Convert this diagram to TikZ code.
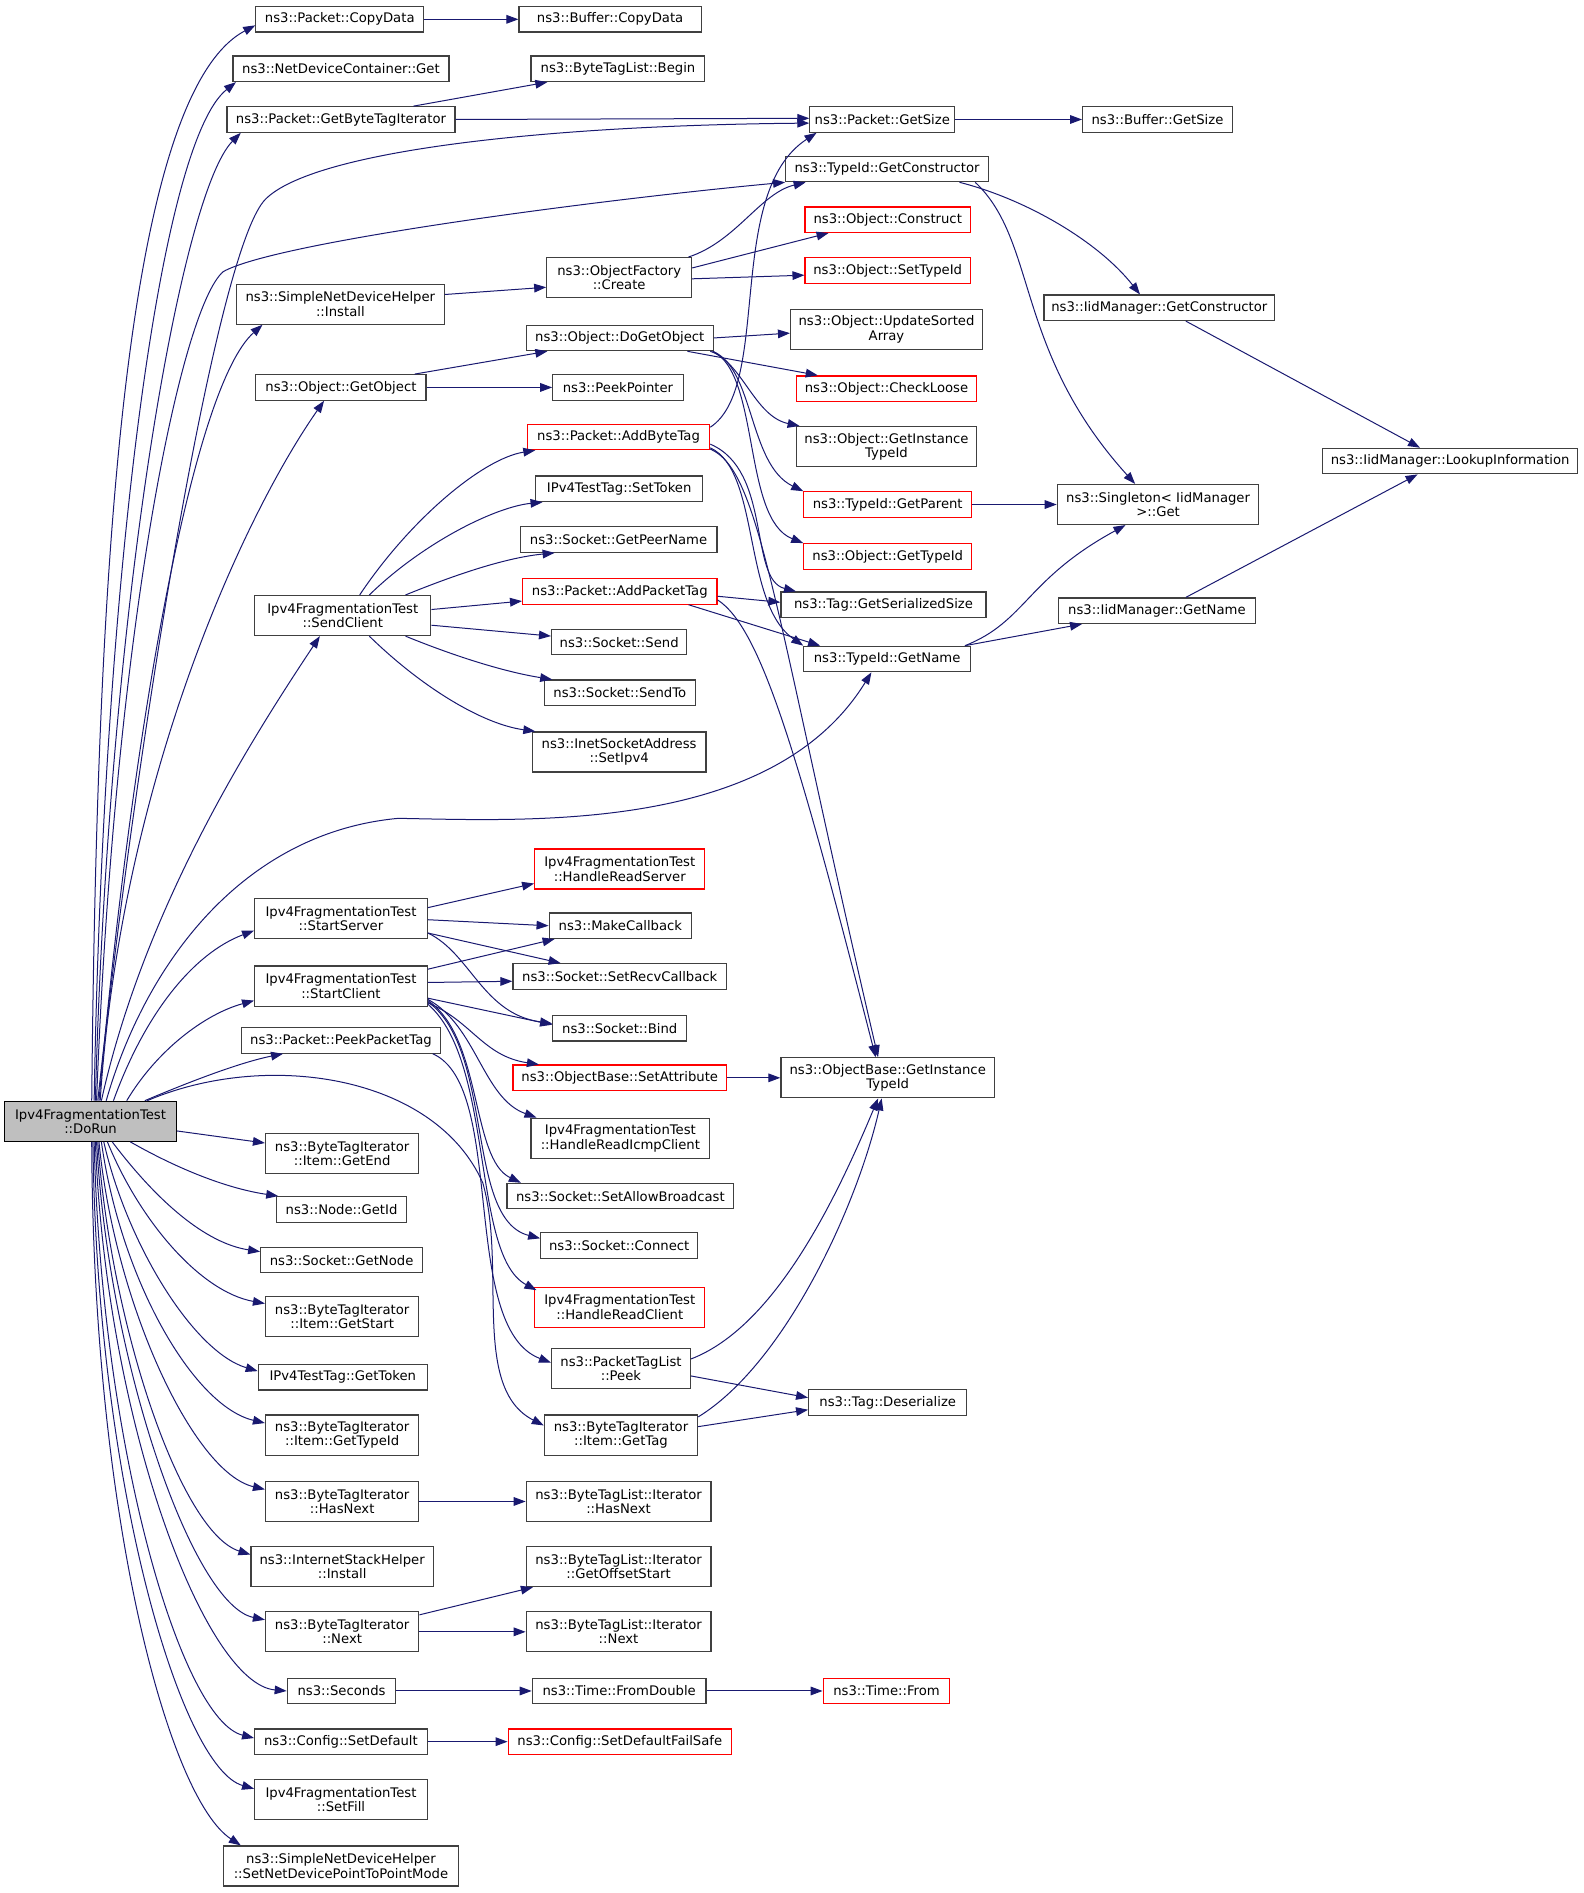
\documentclass[tikz,border=0pt]{standalone}
\usepackage{fontspec}
\newfontfamily\dejavu{DejaVu Sans}
\usetikzlibrary{arrows.meta,calc}
\definecolor{edgeblue}{HTML}{191970}
\definecolor{boxgrey}{HTML}{404040}
\definecolor{rootgrey}{HTML}{BFBFBF}
\definecolor{boxred}{HTML}{FF0000}

\begin{document}
\begin{tikzpicture}[x=0.905pt, y=-0.905pt,
  fn/.style={draw=boxgrey, fill=white, line width=0.9pt, font=\dejavu\fontsize{9.9}{10.8}\selectfont,
    align=center, inner xsep=2pt, inner ysep=1pt, minimum height=19.1pt},
  two/.style={minimum height=30pt},
  bw/.style={minimum width=#1*0.905pt},
  redfn/.style={fn, draw=boxred},
  rootfn/.style={fn, fill=rootgrey, draw=black},
  call/.style={draw=edgeblue, line width=0.75pt, -{Triangle[length=9pt,width=6.5pt]}}]
  \useasboundingbox (0,0) rectangle (1312.3,1568.4);

  \node[rootfn,two,bw=142] (dorun) at (75,929) {Ipv4FragmentationTest\\::DoRun};
  \node[fn,bw=139] (pcopy) at (281.5,16) {ns3::Packet::CopyData};
  \node[fn,bw=151] (bcopy) at (505.5,16) {ns3::Buffer::CopyData};
  \node[fn,bw=179] (ndcget) at (282.5,57) {ns3::NetDeviceContainer::Get};
  \node[fn,bw=144] (btlbegin) at (512,57) {ns3::ByteTagList::Begin};
  \node[fn,bw=189] (getbti) at (282.5,99) {ns3::Packet::GetByteTagIterator};
  \node[fn,bw=120] (psize) at (731,99) {ns3::Packet::GetSize};
  \node[fn,bw=124] (bsize) at (959,99) {ns3::Buffer::GetSize};
  \node[fn,bw=168] (tidctor) at (735,140) {ns3::TypeId::GetConstructor};
  \node[redfn,bw=137] (oconstruct) at (735.5,182) {ns3::Object::Construct};
  \node[fn,two,bw=120] (ofcreate) at (513,230) {ns3::ObjectFactory\\::Create};
  \node[redfn,bw=137] (osettid) at (735.5,224) {ns3::Object::SetTypeId};
  \node[fn,two,bw=172] (sndhinstall) at (282,252) {ns3::SimpleNetDeviceHelper\\::Install};
  \node[fn,bw=191] (iidctor) at (960.5,255) {ns3::IidManager::GetConstructor};
  \node[fn,bw=155] (dogetobj) at (513.5,280) {ns3::Object::DoGetObject};
  \node[fn,two,bw=159] (usorted) at (734.5,273) {ns3::Object::UpdateSorted\\Array};
  \node[fn,bw=141] (getobj) at (282.5,321) {ns3::Object::GetObject};
  \node[fn,bw=108] (peekptr) at (512,321) {ns3::PeekPointer};
  \node[redfn,bw=149] (checkloose) at (734.5,322) {ns3::Object::CheckLoose};
  \node[redfn,bw=151] (addbtag) at (512.5,362) {ns3::Packet::AddByteTag};
  \node[fn,two,bw=149] (oinsttid) at (734.5,370) {ns3::Object::GetInstance\\TypeId};
  \node[fn,bw=211] (lookup) at (1201.5,382) {ns3::IidManager::LookupInformation};
  \node[fn,bw=138] (settoken) at (513,405) {IPv4TestTag::SetToken};
  \node[redfn,bw=139] (getparent) at (735.5,418) {ns3::TypeId::GetParent};
  \node[fn,two,bw=167] (singleton) at (959.5,418) {ns3::Singleton< IidManager\\>::Get};
  \node[fn,bw=163] (peername) at (512.5,447) {ns3::Socket::GetPeerName};
  \node[redfn,bw=139] (ogettid) at (735.5,461) {ns3::Object::GetTypeId};
  \node[redfn,bw=161] (addptag) at (513.5,490) {ns3::Packet::AddPacketTag};
  \node[fn,two,bw=146] (sendclient) at (284,510) {Ipv4FragmentationTest\\::SendClient};
  \node[fn,bw=170] (sersize) at (732,501) {ns3::Tag::GetSerializedSize};
  \node[fn,bw=163] (iidname) at (958.5,506) {ns3::IidManager::GetName};
  \node[fn,bw=112] (ssend) at (513,532) {ns3::Socket::Send};
  \node[fn,bw=138] (tidname) at (735,546) {ns3::TypeId::GetName};
  \node[fn,bw=125] (ssendto) at (513.5,574) {ns3::Socket::SendTo};
  \node[fn,two,bw=144] (setipv4) at (513,623) {ns3::InetSocketAddress\\::SetIpv4};
  \node[redfn,two,bw=141] (hreadserver) at (513.5,720) {Ipv4FragmentationTest\\::HandleReadServer};
  \node[fn,two,bw=143] (startserver) at (282.5,761) {Ipv4FragmentationTest\\::StartServer};
  \node[fn,bw=118] (mkcb) at (514,767) {ns3::MakeCallback};
  \node[fn,bw=177] (recvcb) at (513.5,809) {ns3::Socket::SetRecvCallback};
  \node[fn,two,bw=143] (startclient) at (282.5,817) {Ipv4FragmentationTest\\::StartClient};
  \node[fn,bw=111] (sbind) at (513.5,852) {ns3::Socket::Bind};
  \node[fn,bw=165] (peekptag) at (282.5,862) {ns3::Packet::PeekPacketTag};
  \node[redfn,bw=177] (setattr) at (513.5,893) {ns3::ObjectBase::SetAttribute};
  \node[fn,two,bw=177] (obinsttid) at (735.5,893) {ns3::ObjectBase::GetInstance\\TypeId};
  \node[fn,two,bw=148] (hreadicmp) at (514,943) {Ipv4FragmentationTest\\::HandleReadIcmpClient};
  \node[fn,two,bw=127] (itemend) at (283.5,956) {ns3::ByteTagIterator\\::Item::GetEnd};
  \node[fn,bw=188] (allowbc) at (514,991) {ns3::Socket::SetAllowBroadcast};
  \node[fn,bw=108] (nodeid) at (283,1002) {ns3::Node::GetId};
  \node[fn,bw=130] (sconnect) at (513,1032) {ns3::Socket::Connect};
  \node[fn,bw=134] (sgetnode) at (283,1044) {ns3::Socket::GetNode};
  \node[redfn,two,bw=141] (hreadclient) at (513.5,1083) {Ipv4FragmentationTest\\::HandleReadClient};
  \node[fn,two,bw=127] (itemstart) at (283.5,1091) {ns3::ByteTagIterator\\::Item::GetStart};
  \node[fn,two,bw=115] (ptlpeek) at (514.5,1134) {ns3::PacketTagList\\::Peek};
  \node[fn,bw=140] (gettoken) at (284,1141) {IPv4TestTag::GetToken};
  \node[fn,bw=131] (deser) at (735.5,1162) {ns3::Tag::Deserialize};
  \node[fn,two,bw=127] (itemtag) at (514.5,1189) {ns3::ByteTagIterator\\::Item::GetTag};
  \node[fn,two,bw=127] (itemtid) at (283.5,1189) {ns3::ByteTagIterator\\::Item::GetTypeId};
  \node[fn,two,bw=127] (btihasnext) at (283.5,1244) {ns3::ByteTagIterator\\::HasNext};
  \node[fn,two,bw=153] (btlhasnext) at (512.5,1244) {ns3::ByteTagList::Iterator\\::HasNext};
  \node[fn,two,bw=151] (ishinstall) at (283.5,1298) {ns3::InternetStackHelper\\::Install};
  \node[fn,two,bw=153] (offstart) at (512.5,1298) {ns3::ByteTagList::Iterator\\::GetOffsetStart};
  \node[fn,two,bw=127] (btinext) at (283.5,1352) {ns3::ByteTagIterator\\::Next};
  \node[fn,two,bw=153] (btlnext) at (512.5,1352) {ns3::ByteTagList::Iterator\\::Next};
  \node[fn,bw=90] (seconds) at (283,1401) {ns3::Seconds};
  \node[fn,bw=144] (fromdbl) at (513,1401) {ns3::Time::FromDouble};
  \node[redfn,bw=105] (tfrom) at (734.5,1401) {ns3::Time::From};
  \node[fn,bw=143] (cfgdef) at (282.5,1443) {ns3::Config::SetDefault};
  \node[redfn,bw=185] (cfgfail) at (513.5,1443) {ns3::Config::SetDefaultFailSafe};
  \node[fn,two,bw=143] (setfill) at (282.5,1491) {Ipv4FragmentationTest\\::SetFill};
  \node[fn,two,bw=195] (p2pmode) at (282.5,1546) {ns3::SimpleNetDeviceHelper\\::SetNetDevicePointToPointMode};

  % calls leaving the top of DoRun
  \draw[call] ($(dorun.north)+(1,0)$) .. controls (80,500) and (100,80) .. ($(pcopy.west)+(0,5)$);
  \draw[call] ($(dorun.north)+(3,0)$) .. controls (85,500) and (130,120) .. ($(ndcget.south west)+(3,0)$);
  \draw[call] ($(dorun.north)+(4,0)$) .. controls (90,500) and (150,160) .. ($(getbti.south west)+(12,0)$);
  \draw[call] ($(dorun.north)+(6,0)$) .. controls (115,600) and (180,205) .. (220,165)
    .. controls (260,125) and (450,104) .. ($(psize.west)+(0,3)$);
  \draw[call] ($(dorun.north)+(5,0)$) .. controls (95,520) and (150,255) .. (185,225)
    .. controls (230,200) and (500,165) .. (tidctor.south west);
  \draw[call] ($(dorun.north)+(7,0)$) .. controls (110,600) and (160,320) .. ($(sndhinstall.south west)+(22,0)$);
  \draw[call] ($(dorun.north)+(8,0)$) .. controls (100,650) and (200,430) .. ($(getobj.south)+(-14,0)$);
  \draw[call] ($(dorun.north)+(9,0)$) .. controls (120,750) and (210,610) .. ($(sendclient.south)+(-19,0)$);
  \draw[call] ($(dorun.north)+(13,0)$) .. controls (120,800) and (200,690) .. (330,678)
    .. controls (440,680) and (640,690) .. ($(tidname.south)+(-13,0)$);
  \draw[call] ($(dorun.north)+(19,0)$) .. controls (120,840) and (160,790) .. ($(startserver.west)+(0,10)$);
  \draw[call] ($(dorun.north)+(30,0)$) .. controls (130,870) and (170,840) .. ($(startclient.west)+(0,12)$);
  \draw[call] ($(dorun.north)+(45,0)$) .. controls (160,895) and (200,880) .. ($(peekptag.south west)+(35,0)$);
  \draw[call] ($(dorun.north)+(47,0)$) .. controls (220,870) and (360,890) .. (400,980)
    .. controls (420,1050) and (390,1150) .. ($(itemtag.west)+(0,-8)$);

  % calls leaving the bottom of DoRun
  \draw[call] ($(dorun.east)+(0,8)$) -- ($(itemend.west)+(0,-9)$);
  \draw[call] ($(dorun.south)+(33,0)$) .. controls (150,970) and (190,985) .. ($(nodeid.north west)+(2,0)$);
  \draw[call] ($(dorun.south)+(18,0)$) .. controls (130,995) and (170,1030) .. ($(sgetnode.west)+(0,-7)$);
  \draw[call] ($(dorun.south)+(14,0)$) .. controls (115,1010) and (165,1070) .. ($(itemstart.west)+(0,-11)$);
  \draw[call] ($(dorun.south)+(11,0)$) .. controls (105,1030) and (160,1120) .. ($(gettoken.west)+(0,-5)$);
  \draw[call] ($(dorun.south)+(9,0)$) .. controls (100,1060) and (160,1165) .. ($(itemtid.west)+(0,-10)$);
  \draw[call] ($(dorun.south)+(7,0)$) .. controls (95,1080) and (160,1220) .. ($(btihasnext.west)+(0,-10)$);
  \draw[call] ($(dorun.south)+(6,0)$) .. controls (92,1100) and (150,1270) .. ($(ishinstall.west)+(0,-10)$);
  \draw[call] ($(dorun.south)+(5,0)$) .. controls (90,1130) and (160,1330) .. ($(btinext.west)+(0,-10)$);
  \draw[call] ($(dorun.south)+(4,0)$) .. controls (88,1180) and (170,1395) .. (seconds.west);
  \draw[call] ($(dorun.south)+(3,0)$) .. controls (84,1200) and (150,1425) .. ($(cfgdef.west)+(0,-3)$);
  \draw[call] ($(dorun.south)+(2,0)$) .. controls (80,1230) and (150,1465) .. ($(setfill.west)+(0,-9)$);
  \draw[call] ($(dorun.south)+(1,0)$) .. controls (77,1260) and (140,1490) .. ($(p2pmode.north west)+(15,0)$);

  % packet and object calls
  \draw[call] (pcopy) -- (bcopy);
  \draw[call] ($(getbti.north east)+(-35,0)$) -- ($(btlbegin.south west)+(14,0)$);
  \draw[call] (getbti.east) -- ($(psize.west)+(0,-1)$);
  \draw[call] (psize) -- (bsize);
  \draw[call] ($(tidctor.south)+(60,0)$) .. controls (850,165) and (910,200) .. ($(iidctor.north)+(-16,0)$);
  \draw[call] ($(tidctor.south)+(73,0)$) .. controls (860,200) and (840,290) .. ($(singleton.north)+(-19,0)$);
  \draw[call] ($(iidctor.south)+(22,0)$) -- ($(lookup.north)+(-25,0)$);
  \draw[call] ($(ofcreate.north east)+(-3,0)$) .. controls (610,200) and (630,160) .. ($(tidctor.south west)+(17,0)$);
  \draw[call] ($(ofcreate.east)+(0,-8)$) -- ($(oconstruct.south west)+(20,0)$);
  \draw[call] ($(ofcreate.east)+(0,1)$) -- ($(osettid.west)+(0,4)$);
  \draw[call] ($(sndhinstall.east)+(0,-8)$) -- ($(ofcreate.west)+(0,8)$);
  \draw[call] ($(getobj.north east)+(-10,0)$) -- ($(dogetobj.south west)+(18,0)$);
  \draw[call] (getobj) -- (peekptr);
  \draw[call] (dogetobj.east) -- ($(usorted.west)+(0,3)$);
  \draw[call] ($(dogetobj.south east)+(-22,0)$) -- ($(checkloose.north west)+(18,0)$);
  \draw[call] ($(dogetobj.south east)+(-3,0)$) .. controls (615,300) and (625,345) .. ($(oinsttid.north west)+(3,0)$);
  \draw[call] ($(dogetobj.south east)+(-1,0)$) .. controls (625,305) and (620,385) .. (getparent.north west);
  \draw[call] ($(dogetobj.south east)+(-1,0)$) .. controls (630,310) and (615,430) .. (ogettid.north west);
  \draw[call] (getparent) -- (singleton);
  \draw[call] ($(addbtag.north east)+(0,3)$) .. controls (640,320) and (600,160) .. ($(psize.south west)+(6,0)$);
  \draw[call] ($(addbtag.east)+(0,6)$) .. controls (640,390) and (620,480) .. ($(sersize.north west)+(13,0)$);
  \draw[call] ($(addbtag.south east)+(0,-2)$) .. controls (630,390) and (615,500) .. (tidname.north west);
  \draw[call] ($(addbtag.south east)+(0,-1)$) .. controls (630,390) and (640,500) .. ($(obinsttid.north)+(-8,0)$);
  \draw[call] ($(addptag.east)+(0,4)$) -- ($(sersize.west)+(0,-2)$);
  \draw[call] ($(addptag.south east)+(-24,0)$) -- ($(tidname.north west)+(14,0)$);
  \draw[call] ($(addptag.east)+(0,7)$) .. controls (630,520) and (660,620) .. ($(obinsttid.north)+(-10,0)$);
  \draw[call] ($(tidname.north east)+(-5,0)$) .. controls (850,515) and (850,480) .. ($(singleton.south)+(-27,0)$);
  \draw[call] ($(tidname.north east)+(-5,0)$) -- ($(iidname.south west)+(20,0)$);
  \draw[call] ($(iidname.north)+(24,0)$) -- ($(lookup.south)+(-27,0)$);

  % SendClient
  \draw[call] ($(sendclient.north)+(14,0)$) .. controls (340,430) and (400,380) .. ($(addbtag.south west)+(7,0)$);
  \draw[call] ($(sendclient.north)+(22,0)$) .. controls (350,450) and (410,420) .. ($(settoken.south west)+(6,0)$);
  \draw[call] ($(sendclient.north)+(52,0)$) .. controls (380,475) and (420,462) .. ($(peername.south west)+(29,0)$);
  \draw[call] ($(sendclient.east)+(0,-5)$) -- ($(addptag.west)+(0,8)$);
  \draw[call] ($(sendclient.east)+(0,8)$) -- ($(ssend.west)+(0,-5)$);
  \draw[call] ($(sendclient.south)+(52,0)$) .. controls (380,545) and (420,557) .. ($(ssendto.north west)+(7,0)$);
  \draw[call] ($(sendclient.south)+(22,0)$) .. controls (350,570) and (400,600) .. ($(setipv4.north west)+(3,0)$);

  % StartServer and StartClient
  \draw[call] ($(startserver.east)+(0,-9)$) -- ($(hreadserver.west)+(0,12)$);
  \draw[call] ($(startserver.east)+(0,1)$) -- (mkcb.west);
  \draw[call] ($(startserver.east)+(0,12)$) -- ($(recvcb.north west)+(40,0)$);
  \draw[call] ($(startserver.east)+(0,12)$) .. controls (390,790) and (400,840) .. ($(sbind.west)+(0,-4)$);
  \draw[call] ($(startclient.east)+(0,-14)$) -- ($(mkcb.south west)+(5,0)$);
  \draw[call] ($(startclient.east)+(0,-3)$) -- ($(recvcb.west)+(0,4)$);
  \draw[call] ($(startclient.east)+(0,10)$) -- ($(sbind.west)+(0,-3)$);
  \draw[call] ($(startclient.east)+(0,14)$) .. controls (390,845) and (400,875) .. ($(setattr.north west)+(22,0)$);
  \draw[call] ($(startclient.east)+(0,11)$) .. controls (395,850) and (400,910) .. ($(hreadicmp.north west)+(5,0)$);
  \draw[call] ($(startclient.east)+(0,12)$) .. controls (400,860) and (390,960) .. ($(allowbc.north west)+(12,0)$);
  \draw[call] ($(startclient.east)+(0,13)$) .. controls (410,870) and (385,1010) .. ($(sconnect.west)+(0,-6)$);
  \draw[call] ($(startclient.east)+(0,15)$) .. controls (410,880) and (390,1040) .. ($(hreadclient.north west)+(2,3)$);
  \draw[call] (setattr) -- (obinsttid);

  % tags
  \draw[call] ($(peekptag.south east)+(-7,0)$) .. controls (420,900) and (380,1100) .. ($(ptlpeek.west)+(0,-5)$);
  \draw[call] ($(ptlpeek.east)+(0,6)$) -- ($(deser.west)+(0,-4)$);
  \draw[call] ($(ptlpeek.north east)+(0,9)$) .. controls (640,1100) and (690,1000) .. ($(obinsttid.south)+(-8,0)$);
  \draw[call] ($(itemtag.east)+(0,-7)$) -- ($(deser.west)+(0,6)$);
  \draw[call] ($(itemtag.north east)+(0,2)$) .. controls (650,1130) and (710,1000) .. ($(obinsttid.south)+(-5,0)$);
  \draw[call] (btihasnext) -- (btlhasnext);
  \draw[call] ($(btinext.north east)+(0,3)$) -- ($(offstart.south west)+(6,0)$);
  \draw[call] (btinext) -- (btlnext);
  \draw[call] (seconds) -- (fromdbl);
  \draw[call] (fromdbl) -- (tfrom);
  \draw[call] (cfgdef) -- (cfgfail);
\end{tikzpicture}
\end{document}
